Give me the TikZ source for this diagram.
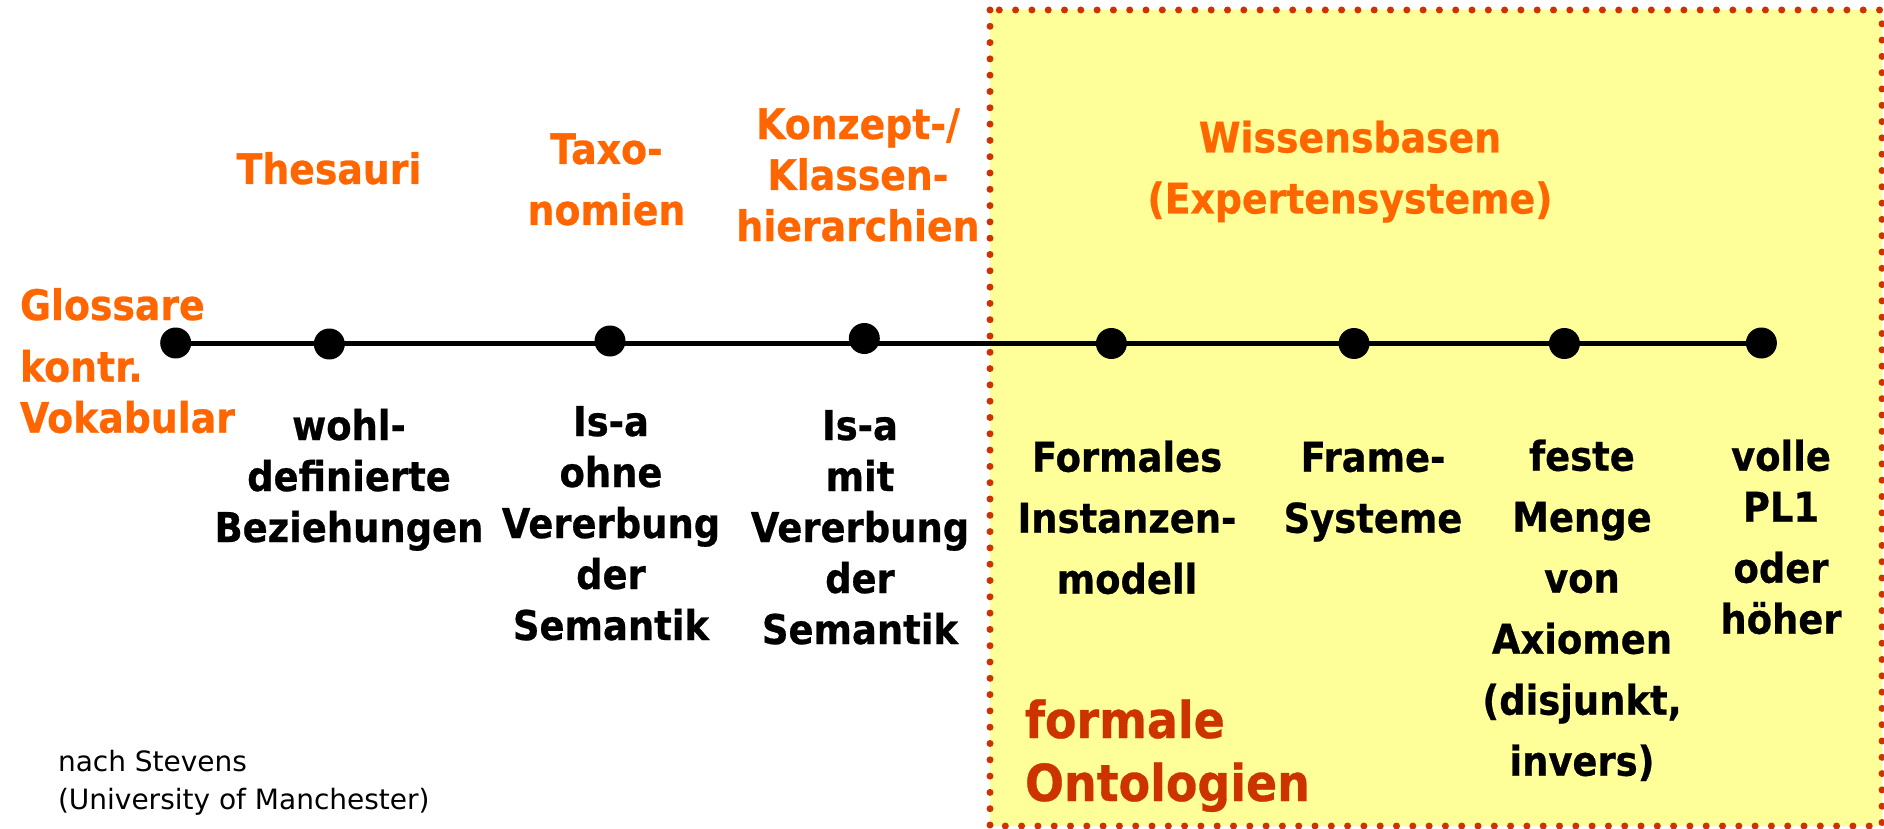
\documentclass[tikz,border=0pt]{standalone}
\usepackage{fontspec}
\newfontfamily\hd[FakeStretch=0.9,BoldFeatures={FakeBold=0.6}]{DejaVu Sans}
\newfontfamily\rg{DejaVu Sans}
\definecolor{ontoorange}{HTML}{FF6600}
\definecolor{ontored}{HTML}{CC3300}
\definecolor{kbfill}{HTML}{FFFF99}
\newcommand{\fl}{\rule{0pt}{40pt}}
\begin{document}
\begin{tikzpicture}[x=1pt,y=-1pt,
  every node/.style={inner sep=0pt, outer sep=0pt},
  stage/.style={circle, fill=black, minimum size=31pt, inner sep=0pt},
  % first line gets a 40pt strut, so anchor north sits 40pt above the first baseline
  lbl/.style={align=center, anchor=north, font=\hd\bfseries\fontsize{41}{51}\selectfont},
  widelbl/.style={lbl, font=\hd\bfseries\fontsize{41}{61}\selectfont},
  cat/.style={align=center, anchor=north, text=ontoorange, font=\hd\bfseries\fontsize{42}{51}\selectfont},
  widecat/.style={cat, font=\hd\bfseries\fontsize{42}{61}\selectfont},
  leftcat/.style={cat, align=left, anchor=north west},
  note/.style={align=left, anchor=north west, font=\rg\fontsize{28}{38}\selectfont}]
% page
\fill[white] (0,0) rectangle (1884,829);
\useasboundingbox (0,0) rectangle (1884,829);
% knowledge-base area with dotted frame
\fill[kbfill] (990,10) rectangle (1882,826);
\draw[ontored, line width=7pt, line cap=round, dash pattern=on 0pt off 16.3pt]
  (990,10) rectangle (1882,826);
% stages on the scale
\node[stage] (d1) at (175.7,343) {};
\node[stage] (d2) at (329.3,344) {};
\node[stage] (d3) at (610,341) {};
\node[stage] (d4) at (864.3,338.5) {};
\node[stage] (d5) at (1111.4,343.5) {};
\node[stage] (d6) at (1354,343.5) {};
\node[stage] (d7) at (1564.4,343.5) {};
\node[stage] (d8) at (1761.4,343) {};
\draw[line width=5pt] (d1) -- (d8);
% kinds of vocabularies (above)
\node[leftcat] (glos) at (20,280) {\fl Glossare};
\node[leftcat] (kv) at (20,341.7) {\fl kontr.\\Vokabular};
\node[cat] (thes) at (329,144) {\fl Thesauri};
\node[widecat] (taxo) at (606.5,124) {\fl Taxo-\\nomien};
\node[cat] (konz) at (858,99) {\fl Konzept-/\\Klassen-\\hierarchien};
\node[widecat] (wiss) at (1350,112.5) {\fl Wissensbasen\\(Expertensysteme)};
% properties (below)
\node[lbl] (wohl) at (349,400) {\fl wohl-\\definierte\\Beziehungen};
\node[lbl] (ohne) at (611,396) {\fl Is-a\\ohne\\Vererbung\\der\\Semantik};
\node[lbl] (mit) at (860,400) {\fl Is-a\\mit\\Vererbung\\der\\Semantik};
\node[widelbl] (inst) at (1127,431.7) {\fl Formales\\Instanzen-\\modell};
\node[widelbl] (frame) at (1373,431.7) {\fl Frame-\\Systeme};
\node[widelbl] (ax) at (1582,430.7) {\fl feste\\Menge\\von\\Axiomen\\(disjunkt,\\invers)};
\node[lbl] (pl1) at (1781,430.7) {\fl volle\\PL1\\[10pt]oder\\höher};
% region label and source
\node[anchor=north west, align=left, text=ontored,
  font=\hd\bfseries\fontsize{51}{63}\selectfont] (formal) at (1025,691) {\rule{0pt}{47pt}formale\\Ontologien};
\node[note] (src) at (58,746) {\rule{0pt}{25pt}nach Stevens\\(University of Manchester)};
\end{tikzpicture}
\end{document}
